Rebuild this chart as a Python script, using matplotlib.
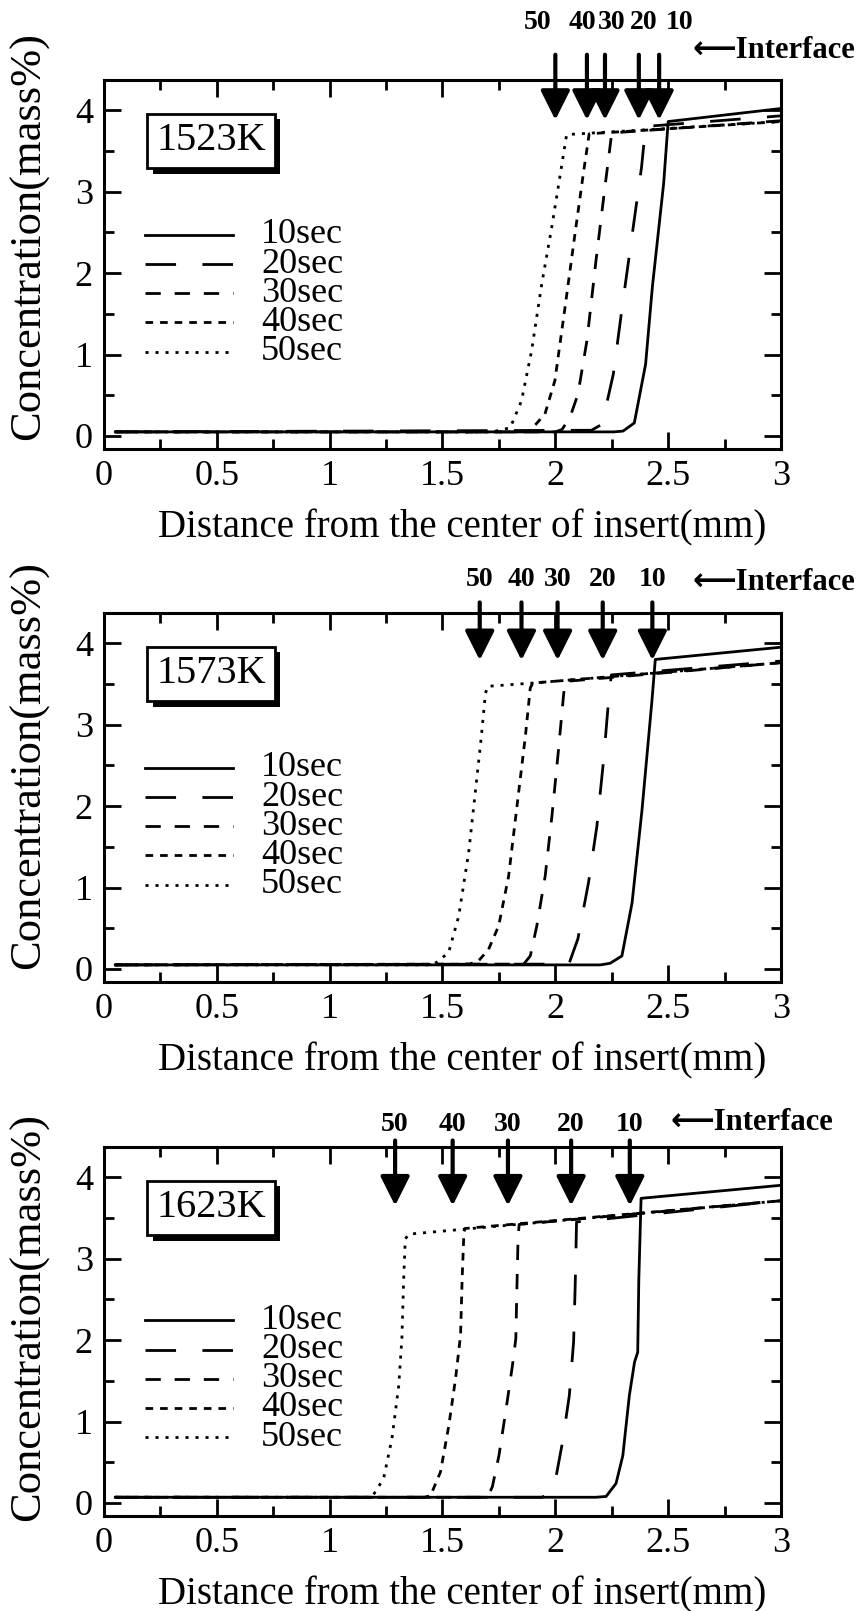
import matplotlib
matplotlib.use("Agg")
import matplotlib.pyplot as plt
from matplotlib import patheffects

plt.rcParams['font.family'] = ['Liberation Serif', 'DejaVu Sans']
plt.rcParams['lines.scale_dashes'] = False

# ---- data ----
times = ['10sec', '20sec', '30sec', '40sec', '50sec']
temps = ['1523K', '1573K', '1623K']

# 1523K
x_1523 = [
    [0.05, 2.26, 2.30, 2.35, 2.40, 2.43, 2.48, 2.50, 3.0],
    [0.05, 2.16, 2.205, 2.227, 2.257, 2.30, 2.345, 2.382, 2.40, 3.0],
    [0.05, 2.00, 2.03, 2.065, 2.10, 2.14, 2.18, 2.22, 2.25, 3.0],
    [0.05, 1.85, 1.887, 1.954, 1.998, 2.043, 2.087, 2.124, 2.15, 3.0],
    [0.05, 1.72, 1.80, 1.85, 1.895, 1.94, 1.984, 2.02, 2.05, 3.0],
]
y_1523 = [
    [0.05, 0.05, 0.06, 0.16, 0.88, 1.83, 3.10, 3.86, 4.02],
    [0.05, 0.07, 0.14, 0.39, 0.76, 1.66, 2.56, 3.30, 3.80, 3.93],
    [0.05, 0.05, 0.08, 0.23, 0.51, 1.17, 2.15, 3.06, 3.72, 3.87],
    [0.05, 0.05, 0.06, 0.27, 0.68, 1.58, 2.48, 3.22, 3.71, 3.86],
    [0.05, 0.05, 0.10, 0.43, 1.05, 1.87, 2.56, 3.18, 3.70, 3.86],
]
# 1573K
x_1573 = [
    [0.05, 2.20, 2.243, 2.295, 2.34, 2.384, 2.428, 2.443, 3.0],
    [0.05, 2.06, 2.10, 2.147, 2.184, 2.214, 2.236, 2.248, 3.0],
    [0.05, 1.86, 1.889, 1.918, 1.955, 1.985, 2.014, 2.037, 2.045, 3.0],
    [0.05, 1.62, 1.66, 1.704, 1.749, 1.793, 1.837, 1.867, 1.889, 1.90, 3.0],
    [0.05, 1.45, 1.468, 1.527, 1.572, 1.616, 1.645, 1.672, 1.69, 1.70, 1.90, 3.0],
]
y_1573 = [
    [0.05, 0.05, 0.07, 0.16, 0.81, 1.95, 3.29, 3.80, 3.95],
    [0.05, 0.06, 0.37, 1.06, 1.75, 2.57, 3.30, 3.61, 3.78],
    [0.05, 0.06, 0.16, 0.53, 1.14, 1.88, 2.69, 3.38, 3.53, 3.76],
    [0.05, 0.06, 0.10, 0.24, 0.53, 1.14, 2.16, 2.85, 3.45, 3.51, 3.76],
    [0.05, 0.05, 0.07, 0.20, 0.65, 1.43, 2.16, 2.85, 3.38, 3.47, 3.51, 3.76],
]
# 1623K
x_1623 = [
    [0.05, 2.18, 2.225, 2.269, 2.299, 2.328, 2.351, 2.365, 2.37, 2.38, 3.0],
    [0.05, 1.94, 1.973, 1.995, 2.032, 2.062, 2.081, 2.088, 2.094, 3.0],
    [0.05, 1.70, 1.721, 1.75, 1.78, 1.81, 1.825, 1.829, 1.835, 1.84, 3.0],
    [0.05, 1.42, 1.447, 1.491, 1.528, 1.558, 1.58, 1.587, 1.595, 1.60, 3.0],
    [0.05, 1.16, 1.187, 1.239, 1.276, 1.306, 1.32, 1.328, 1.335, 1.35, 3.0],
]
y_1623 = [
    [0.07, 0.07, 0.08, 0.24, 0.58, 1.32, 1.73, 1.85, 2.75, 3.74, 3.90],
    [0.07, 0.07, 0.11, 0.20, 0.75, 1.32, 1.98, 2.67, 3.45, 3.71],
    [0.07, 0.07, 0.20, 0.58, 1.12, 1.69, 2.02, 2.55, 3.28, 3.42, 3.71],
    [0.07, 0.07, 0.09, 0.38, 0.95, 1.53, 2.06, 2.75, 3.33, 3.37, 3.71],
    [0.07, 0.07, 0.07, 0.30, 0.79, 1.44, 2.02, 2.75, 3.24, 3.30, 3.71],
]

arrow_labels = ['50', '40', '30', '20', '10']
arrows_1523 = [2.00, 2.14, 2.22, 2.37, 2.46]
labels_1523 = [1.92, 2.12, 2.25, 2.39, 2.55]
arrows_1573 = [1.665, 1.85, 2.01, 2.21, 2.43]
labels_1573 = arrows_1573
arrows_1623 = [1.29, 1.545, 1.79, 2.07, 2.33]
labels_1623 = arrows_1623

# ---- styles ----
styles = ['-', (0, (22, 19)), (0, (11, 10)), (0, (5.5, 5)), (0, (2.2, 5))]
LW = 2.0

panels = [
    dict(T=temps[0], xs=x_1523, ys=y_1523, arr=arrows_1523, lab=labels_1523,
         top=80, arr_y=(4.68, 3.88), lab_y=5.08, intf=(3.33, 4.73), leg_top=0.58, ylab_y=0.577),
    dict(T=temps[1], xs=x_1573, ys=y_1573, arr=arrows_1573, lab=labels_1573,
         top=613, arr_y=(4.50, 3.79), lab_y=4.78, intf=(3.33, 4.74), leg_top=0.58, ylab_y=0.588),
    dict(T=temps[2], xs=x_1623, ys=y_1623, arr=arrows_1623, lab=labels_1623,
         top=1147, arr_y=(4.45, 3.65), lab_y=4.65, intf=(3.23, 4.67), leg_top=0.53, ylab_y=0.54),
]

W, H = 859, 1611
fig = plt.figure(figsize=(W / 100, H / 100), dpi=100)

for p in panels:
    ax = fig.add_axes([104 / W, 1 - (p['top'] + 369) / H, 677 / W, 369 / H])
    for xs, ys, ls in zip(p['xs'], p['ys'], styles):
        ax.plot(xs, ys, color='black', lw=LW, ls=ls)
    ax.set_xlim(0, 3)
    ax.set_ylim(-0.16, 4.37)
    ax.set_xticks([0, 0.5, 1, 1.5, 2, 2.5, 3])
    ax.set_xticklabels(['0', '0.5', '1', '1.5', '2', '2.5', '3'])
    ax.set_xticks([0.25, 0.75, 1.25, 1.75, 2.25, 2.75], minor=True)
    ax.set_yticks([0, 1, 2, 3, 4])
    ax.set_yticks([0.5, 1.5, 2.5, 3.5], minor=True)
    ax.tick_params(which='both', direction='in', top=True, right=True, width=2.0,
                   labelsize=26, pad=8)
    ax.tick_params(which='major', length=12)
    ax.tick_params(which='minor', length=7)
    for s in ax.spines.values():
        s.set_linewidth(2.2)
    ax.set_xlabel('Distance from the center of insert(mm)', fontsize=28, va='center')
    ax.xaxis.set_label_coords(0.529, -0.215)
    ax.set_ylabel('Concentration(mass%)', fontsize=32, va='center')
    ax.yaxis.set_label_coords(-0.111, p['ylab_y'])

    # temperature box with a black drop shadow
    t = ax.text(0.158, 0.835, p['T'], transform=ax.transAxes, fontsize=29,
                ha='center', va='center',
                bbox=dict(boxstyle='square,pad=0.22', fc='white', ec='black', lw=2))
    t.get_bbox_patch().set_path_effects([
        patheffects.SimplePatchShadow(offset=(4, -4), shadow_rgbFace='black', alpha=1.0),
        patheffects.Normal()])

    # legend drawn by hand
    for i, (name, ls) in enumerate(zip(times, styles)):
        yy = p['leg_top'] - i * 0.079
        ax.plot([0.061, 0.19], [yy, yy], transform=ax.transAxes, color='black', lw=LW, ls=ls)
        ax.text(0.232, yy, name, transform=ax.transAxes, fontsize=26, va='center', ha='left')

    # interface arrows
    y0, y1 = p['arr_y']
    for xa in p['arr']:
        ax.annotate('', xy=(xa, y1), xytext=(xa, y0), annotation_clip=False,
                    arrowprops=dict(arrowstyle='-|>,head_length=0.9,head_width=0.45',
                                    mutation_scale=20, lw=3, color='black',
                                    shrinkA=0, shrinkB=0))
    for xl, lab in zip(p['lab'], arrow_labels):
        ax.text(xl, p['lab_y'], lab, fontsize=20, fontweight='bold', ha='center', va='center',
                clip_on=False)
    ax.text(p['intf'][0], p['intf'][1], '\u27f5Interface', fontsize=22, fontweight='bold',
            ha='right', va='center', clip_on=False)

fig.savefig('out.png', dpi=100)
